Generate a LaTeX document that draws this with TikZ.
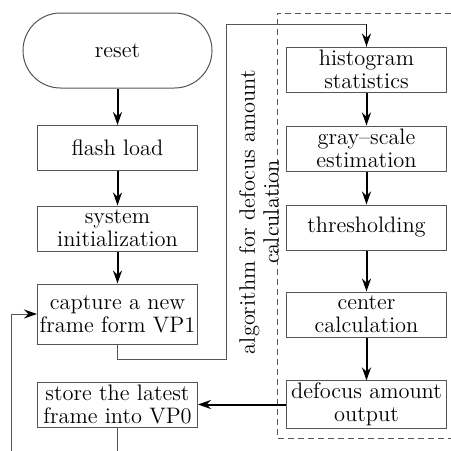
\documentclass[tikz,border=0pt]{standalone}
\usepackage{tikz}
\usetikzlibrary{arrows.meta,positioning}
\definecolor{EdgeGray}{HTML}{555555}

\begin{document}
\begin{tikzpicture}[x=0.5pt,y=-0.5pt,
  stepbox/.style={draw=EdgeGray,line width=0.5pt,minimum width=80pt,minimum height=22.5pt,
    align=center,inner sep=1pt,font=\fontsize{11.2}{11.5}\selectfont},
  flowarrow/.style={line width=1pt,-{Stealth[length=6.5pt,width=4.5pt]}},
  loopline/.style={draw=EdgeGray,line width=0.5pt}]
  \useasboundingbox (0,0) rectangle (451,451);
  % main loop column
  \node[stepbox,rounded corners=18.75pt,minimum width=94.5pt,minimum height=37.5pt] (reset) at (117.5,50.5) {reset};
  \node[stepbox] (flash) at (117.5,148) {flash load};
  \node[stepbox] (init) at (117.5,228.5) {system\\initialization};
  \node[stepbox,minimum height=30pt] (capture) at (117.5,314) {capture a new\\frame form VP1};
  \node[stepbox] (store) at (117.5,404.5) {store the latest\\frame into VP0};
  % algorithm column
  \node[stepbox] (hist) at (366.5,69.5) {histogram\\statistics};
  \node[stepbox] (gray) at (366.5,148.5) {gray--scale\\estimation};
  \node[stepbox] (thresh) at (366.5,227.5) {thresholding};
  \node[stepbox] (center) at (366.5,314.5) {center\\calculation};
  \node[stepbox] (defocus) at (366.5,404.5) {defocus amount\\output};
  \draw[EdgeGray,line width=0.5pt,dash pattern=on 3pt off 2pt] (451,13) -- (277,13) -- (277,438) -- (451,438);
  \node[rotate=90,align=center,font=\fontsize{11.2}{12}\selectfont] (algo) at (259,212) {algorithm for defocus amount\\calculation};
  % connectors
  \draw[flowarrow] (reset) -- (flash);
  \draw[flowarrow] (flash) -- (init);
  \draw[flowarrow] (init) -- (capture);
  \draw[flowarrow] (hist) -- (gray);
  \draw[flowarrow] (gray) -- (thresh);
  \draw[flowarrow] (thresh) -- (center);
  \draw[flowarrow] (center) -- (defocus);
  \draw[flowarrow] (defocus) -- (store);
  \coordinate (loopin) at (226,24);
  \coordinate (fromstore) at (117.5,451);
  \coordinate (backin) at (11,451);
  \draw[loopline] (capture.south) -- ++(0,15) -| (loopin) -| (hist.north);
  \draw[flowarrow,line width=0.6pt] (loopin -| hist.north) -- (hist.north);
  \draw[loopline] (store.south) -- (fromstore);
  \draw[loopline,-{Stealth[length=6.5pt,width=4.5pt,color=black]}] (backin) |- (capture.west);
\end{tikzpicture}
\end{document}
